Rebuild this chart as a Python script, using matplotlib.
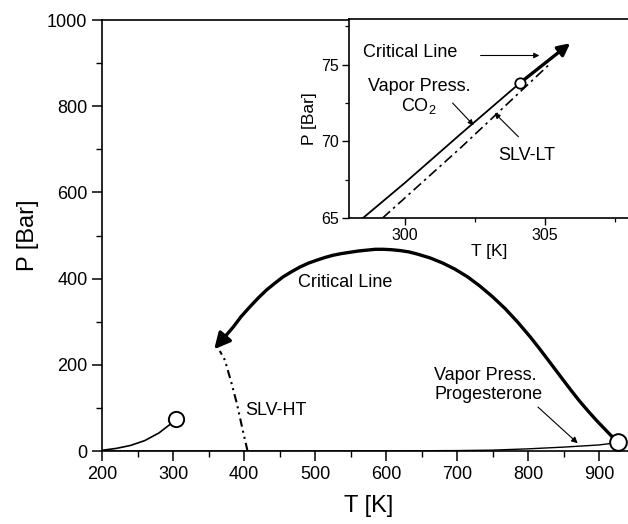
import matplotlib
matplotlib.use("Agg")
import matplotlib.pyplot as plt
from matplotlib.ticker import MultipleLocator

plt.rcParams['font.family'] = ['Liberation Sans', 'DejaVu Sans']
plt.rcParams['mathtext.default'] = 'regular'

# ---- main plot data ----
co2_T = [200, 220, 240, 260, 280, 300, 304]
co2_P = [1.6, 6, 12.8, 24, 41.6, 67, 73.8]

crit_T = [927, 918, 911, 904, 897, 885, 873, 861, 849, 838, 827, 815, 803, 786, 768, 750,
          732, 715, 697, 680, 662, 644, 632, 620, 608, 596, 585, 573, 561, 549, 537, 525,
          514, 503, 491, 479, 467, 455, 444, 432, 420, 408, 396, 385, 372, 358]
crit_P = [20, 34, 46, 58, 70, 92, 115, 140, 166, 190, 214, 240, 265, 298, 330, 358,
          383, 404, 422, 436, 448, 457, 462, 465, 467, 468, 468, 466, 464, 461, 458, 454,
          449, 443, 436, 427, 416, 404, 390, 374, 355, 334, 312, 288, 263, 236]

slvht_T = [405, 398, 390, 382, 373, 366]
slvht_P = [0, 50, 110, 160, 211, 232]

prog_T = [200, 400, 600, 700, 750, 800, 850, 900, 928]
prog_P = [0, 0, 0.2, 1, 2, 5, 9, 14, 20]

# ---- inset data ----
in_vp_T = [298.5, 300, 302, 304.1]
in_vp_P = [65, 67.3, 70.5, 73.8]
in_crit_T = [304.1, 305.9]
in_crit_P = [73.8, 76.4]
in_slv_T = [299.2, 302, 305.2]
in_slv_P = [65, 69.6, 75.1]

W, H = 628, 524
fig = plt.figure(figsize=(W / 100, H / 100), dpi=100)

# main axes: xlim 200-950, right edge falls outside the image
ax = fig.add_axes([102 / W, (H - 451) / H, 532.5 / W, 431 / H])
ax.set_xlim(200, 950)
ax.set_ylim(0, 1000)
ax.spines['right'].set_visible(False)
for s in ax.spines.values():
    s.set_linewidth(1.2)
ax.xaxis.set_major_locator(MultipleLocator(100))
ax.xaxis.set_minor_locator(MultipleLocator(50))
ax.yaxis.set_major_locator(MultipleLocator(200))
ax.yaxis.set_minor_locator(MultipleLocator(100))
ax.tick_params(which='major', direction='out', length=7, width=1.1, labelsize=13, top=False)
ax.tick_params(which='minor', direction='out', length=4, width=1.0, top=False)
ax.set_xlabel('T [K]', fontsize=17, labelpad=9)
ax.set_ylabel('P [Bar]', fontsize=17, labelpad=6)

# curves
ax.plot(co2_T, co2_P, color='k', lw=1.2, zorder=3)
ax.plot(prog_T, prog_P, color='k', lw=1.0, zorder=3)
ax.plot(crit_T[:-1], crit_P[:-1], color='k', lw=2.4, solid_capstyle='butt',
        solid_joinstyle='round', zorder=3)
ax.annotate('', xy=(crit_T[-1], crit_P[-1]), xytext=(crit_T[-2], crit_P[-2]),
            arrowprops=dict(arrowstyle='-|>', mutation_scale=24, lw=2.4, color='k',
                            shrinkA=0, shrinkB=0), zorder=4)
ax.plot(slvht_T, slvht_P, color='k', lw=1.5, linestyle=(0, (4, 2, 1, 2, 1, 2)), zorder=3)
ax.plot([304], [73.8], 'o', ms=11, mfc='white', mec='k', mew=1.4, zorder=5)
ax.annotate('', xy=(309, 86), xytext=(304, 74),
            arrowprops=dict(arrowstyle='-|>', mutation_scale=10, lw=1.2, color='k',
                            shrinkA=0, shrinkB=0), zorder=4)
ax.plot([927], [20], 'o', ms=12, mfc='white', mec='k', mew=1.4, zorder=5, clip_on=False)

ax.text(542, 390, 'Critical Line', fontsize=13, ha='center', va='center')
ax.text(401, 95, 'SLV-HT', fontsize=13, ha='left', va='center')
ax.text(668, 153, 'Vapor Press.\nProgesterone', fontsize=13, ha='left', va='center',
        linespacing=1.1)
ax.annotate('', xy=(870, 18), xytext=(814, 102),
            arrowprops=dict(arrowstyle='-|>', mutation_scale=9, lw=0.8, color='k',
                            shrinkA=0, shrinkB=0))

# ---- inset ----
ia = fig.add_axes([349 / W, (H - 218) / H, 280 / W, 199.3 / H])
ia.set_xlim(298, 308)
ia.set_ylim(65, 78)
ia.spines['right'].set_visible(False)
for s in ia.spines.values():
    s.set_linewidth(1.2)
ia.xaxis.set_major_locator(MultipleLocator(5))
ia.xaxis.set_minor_locator(MultipleLocator(2.5))
ia.yaxis.set_major_locator(MultipleLocator(5))
ia.yaxis.set_minor_locator(MultipleLocator(2.5))
ia.tick_params(which='major', direction='out', length=5, width=1.0, labelsize=11.5, pad=2)
ia.tick_params(which='minor', direction='out', length=3, width=0.9)
ia.set_xlabel('T [K]', fontsize=12.5, labelpad=1)
ia.set_ylabel('P [Bar]', fontsize=12.5, labelpad=3)

ia.plot(in_vp_T, in_vp_P, color='k', lw=1.3, zorder=3)
ia.plot(in_slv_T, in_slv_P, color='k', lw=1.2, linestyle=(0, (6, 2.5, 1.5, 2.5)), zorder=3)
ia.annotate('', xy=(in_crit_T[1], in_crit_P[1]), xytext=(in_crit_T[0], in_crit_P[0]),
            arrowprops=dict(arrowstyle='-|>', mutation_scale=18, lw=2.4, color='k',
                            shrinkA=0, shrinkB=0), zorder=4)
ia.plot([in_crit_T[0]], [in_crit_P[0]], 'o', ms=7.5, mfc='white', mec='k', mew=1.3, zorder=5)

ia.text(298.5, 75.8, 'Critical Line', fontsize=13, ha='left', va='center')
ia.annotate('', xy=(304.8, 75.6), xytext=(302.7, 75.6),
            arrowprops=dict(arrowstyle='-|>', mutation_scale=8, lw=0.8, color='k',
                            shrinkA=0, shrinkB=0))
ia.text(300.5, 72.9, 'Vapor Press.\nCO$_2$', fontsize=13, ha='center', va='center',
        linespacing=1.1)
ia.annotate('', xy=(302.45, 71.05), xytext=(301.7, 72.5),
            arrowprops=dict(arrowstyle='-|>', mutation_scale=8, lw=0.8, color='k',
                            shrinkA=0, shrinkB=0))
ia.text(304.36, 69.1, 'SLV-LT', fontsize=13, ha='center', va='center')
ia.annotate('', xy=(303.2, 71.85), xytext=(304.05, 70.3),
            arrowprops=dict(arrowstyle='-|>', mutation_scale=8, lw=0.8, color='k',
                            shrinkA=0, shrinkB=0))

fig.savefig('out.png', dpi=100)
